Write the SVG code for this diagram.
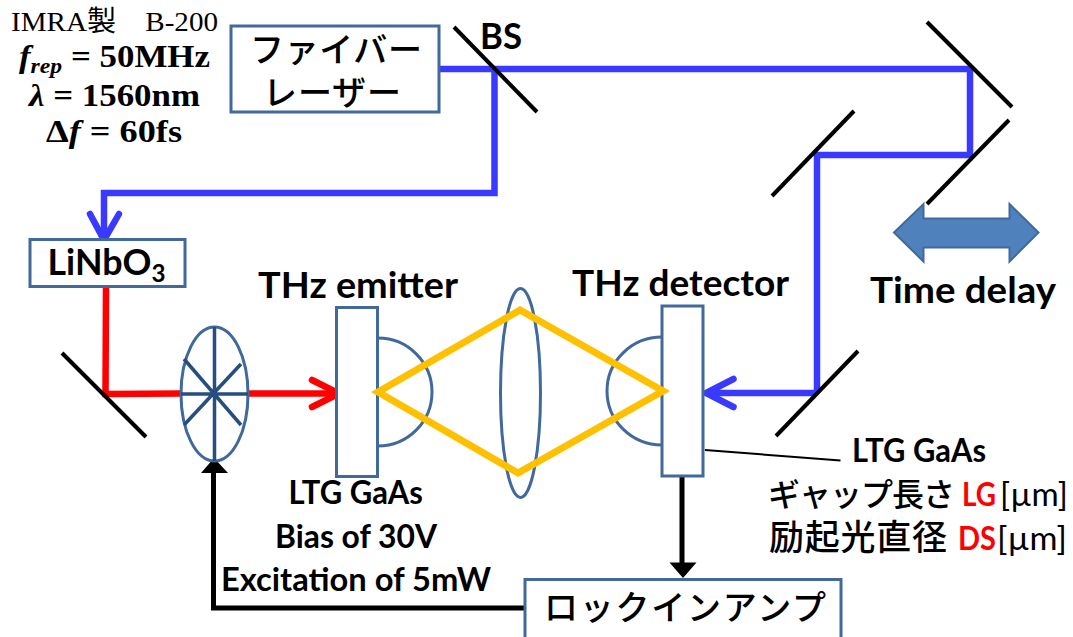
<svg xmlns="http://www.w3.org/2000/svg" width="1073" height="637" viewBox="0 0 1073 637">
<style>
.box{fill:#fff;stroke:#41699b;stroke-width:3}
.thin{fill:none;stroke:#41699b;stroke-width:3}
.mirror{fill:none;stroke:#000;stroke-width:4}
.blue{fill:none;stroke:#3939ff;stroke-width:6.500}
.red{fill:none;stroke:#f00;stroke-width:6.500}
.gold{fill:none;stroke:#ffc000;stroke-width:7;stroke-linejoin:miter}
.blk{fill:none;stroke:#000;stroke-width:5}
.spoke{stroke:#264f80;stroke-width:3.500;fill:none}
.chev{stroke-width:6.500;stroke-linecap:round;stroke-linejoin:miter}
text{font-family:Lato,"Noto Sans CJK JP",sans-serif;fill:#000}
.b{font-weight:700;font-size:37px}
.m{font-weight:700;font-size:32px}
.n{font-size:32px}
.j{font-family:"Noto Sans CJK JP",sans-serif;font-size:34px;font-weight:500}
.j2{font-family:"Noto Sans CJK JP",sans-serif;font-size:32px;font-weight:500}
.j3{font-family:"Noto Sans CJK JP",sans-serif;font-size:35px;font-weight:500}
.s{font-family:"Liberation Serif","Noto Sans CJK JP",serif;font-size:28px}
.sb{font-family:"Liberation Serif","Noto Sans CJK JP",serif;font-size:31px;font-weight:700}
.r{fill:#f00}
</style>
<g id="connectors">
<path class="blue" d="M439 69H970V155H817V393M494.500 69V193H104V240"/>
<path class="blue chev" d="M90 214L104 240L119 214"/>
<path class="blue" d="M817 393H708"/>
<path class="blue chev" d="M733.500 379L706 393L733.500 407"/>
<path class="red" d="M106 285L105.500 394L181 393.500M248 393.500H335"/>
<path class="red chev" d="M312 380L339 393.500L312 407"/>
<path class="blk" d="M682 476V565"/>
<path d="M669.500 562.500H696.500L683 578Z" fill="#000"/>
<path class="blk" d="M524 608H213.500V470"/>
<path d="M201 473H228L214 458Z" fill="#000"/>
<path d="M705 450L840.500 460.500" stroke="#000" stroke-width="2" fill="none"/>
</g>
<g id="laser"><rect class="box" x="231" y="26" width="208" height="86"/>
<text class="j" x="250" y="62" textLength="172">ファイバー</text>
<text class="j" x="263" y="105" textLength="138">レーザー</text></g>
<g id="laser-spec">
<text class="s" x="11" y="31" textLength="207" lengthAdjust="spacingAndGlyphs">IMRA製　B-200</text>
<text class="sb" x="19" y="67" textLength="191" lengthAdjust="spacingAndGlyphs"><tspan font-style="italic">f</tspan><tspan font-style="italic" font-size="21" dy="6">rep</tspan><tspan dy="-6"> = 50MHz</tspan></text>
<text class="sb" x="29" y="106" textLength="171" lengthAdjust="spacingAndGlyphs"><tspan font-style="italic">λ</tspan> = 1560nm</text>
<text class="sb" x="46" y="142" textLength="136" lengthAdjust="spacingAndGlyphs">Δ<tspan font-style="italic">f</tspan> = 60fs</text></g>
<g id="bs"><path class="mirror" d="M454 27L537 112"/>
<text class="b" x="480" y="49" textLength="42" lengthAdjust="spacingAndGlyphs">BS</text></g>
<g id="mirror-top-right"><path class="mirror" d="M927 22L1012 107"/></g>
<g id="mirror-delay-lower"><path class="mirror" d="M1009 120L927 204"/></g>
<g id="mirror-delay-left"><path class="mirror" d="M854 111L772 196"/></g>
<g id="mirror-detector"><path class="mirror" d="M858 351L776 436"/></g>
<g id="mirror-left"><path class="mirror" d="M62 353L146 437"/></g>
<g id="time-delay"><path d="M894 232.500L923.500 204V218.500H1009.500V204L1038.500 232.500L1009.500 261.500V247.500H923.500V261.500Z" fill="#4f81bd" stroke="#41699b" stroke-width="2"/>
<text class="b" x="870" y="303" textLength="186" lengthAdjust="spacingAndGlyphs">Time delay</text></g>
<g id="linbo3"><rect class="box" x="30" y="239.500" width="155" height="47"/>
<text class="b" x="47.500" y="275" textLength="118" lengthAdjust="spacingAndGlyphs">LiNbO<tspan font-size="25" dy="7">3</tspan></text></g>
<g id="chopper"><ellipse class="thin" cx="214.500" cy="394" rx="33.500" ry="67"/>
<path class="spoke" d="M214.500 327V461M181 394H248M184 359L241 425M241 364L184 425"/></g>
<g id="emitter"><path class="thin" d="M378 338A54 54 0 0 1 378 446"/><rect class="box" x="336.500" y="307.500" width="41" height="169"/>
<text class="b" x="258" y="298" textLength="200" lengthAdjust="spacingAndGlyphs">THz emitter</text>
<text class="m" x="288.500" y="504" textLength="134.500" lengthAdjust="spacingAndGlyphs">LTG GaAs</text>
<text class="m" x="275" y="548" textLength="162" lengthAdjust="spacingAndGlyphs">Bias of 30V</text>
<text class="m" x="221" y="591" textLength="270" lengthAdjust="spacingAndGlyphs">Excitation of 5mW</text></g>
<g id="lens"><ellipse class="thin" cx="520.500" cy="393" rx="20" ry="104.500"/></g>
<g id="detector"><path class="thin" d="M662 337A55 54 0 0 0 662 445"/><rect class="box" x="662" y="306" width="41" height="170"/>
<text class="b" x="572" y="296" textLength="217" lengthAdjust="spacingAndGlyphs">THz detector</text>
<text class="m" x="852" y="462" textLength="134" lengthAdjust="spacingAndGlyphs">LTG GaAs</text>
<text class="j2" x="768" y="506" textLength="187">ギャップ長さ</text>
<text class="m r" x="962" y="506" textLength="34" lengthAdjust="spacingAndGlyphs">LG</text>
<text class="n" x="1000" y="506" textLength="68" lengthAdjust="spacingAndGlyphs">[µm]</text>
<text class="j3" x="769" y="550" textLength="178">励起光直径</text>
<text class="m r" x="958" y="550" textLength="38" lengthAdjust="spacingAndGlyphs">DS</text>
<text class="n" x="997" y="550" textLength="70" lengthAdjust="spacingAndGlyphs">[µm]</text></g>
<g id="beam-thz"><path class="gold" d="M378 392L520 310L663 391L518 473Z"/></g>
<g id="lockin"><rect class="box" x="525" y="579.500" width="316" height="70"/>
<text class="j" x="544" y="620" textLength="282">ロックインアンプ</text></g>
</svg>
